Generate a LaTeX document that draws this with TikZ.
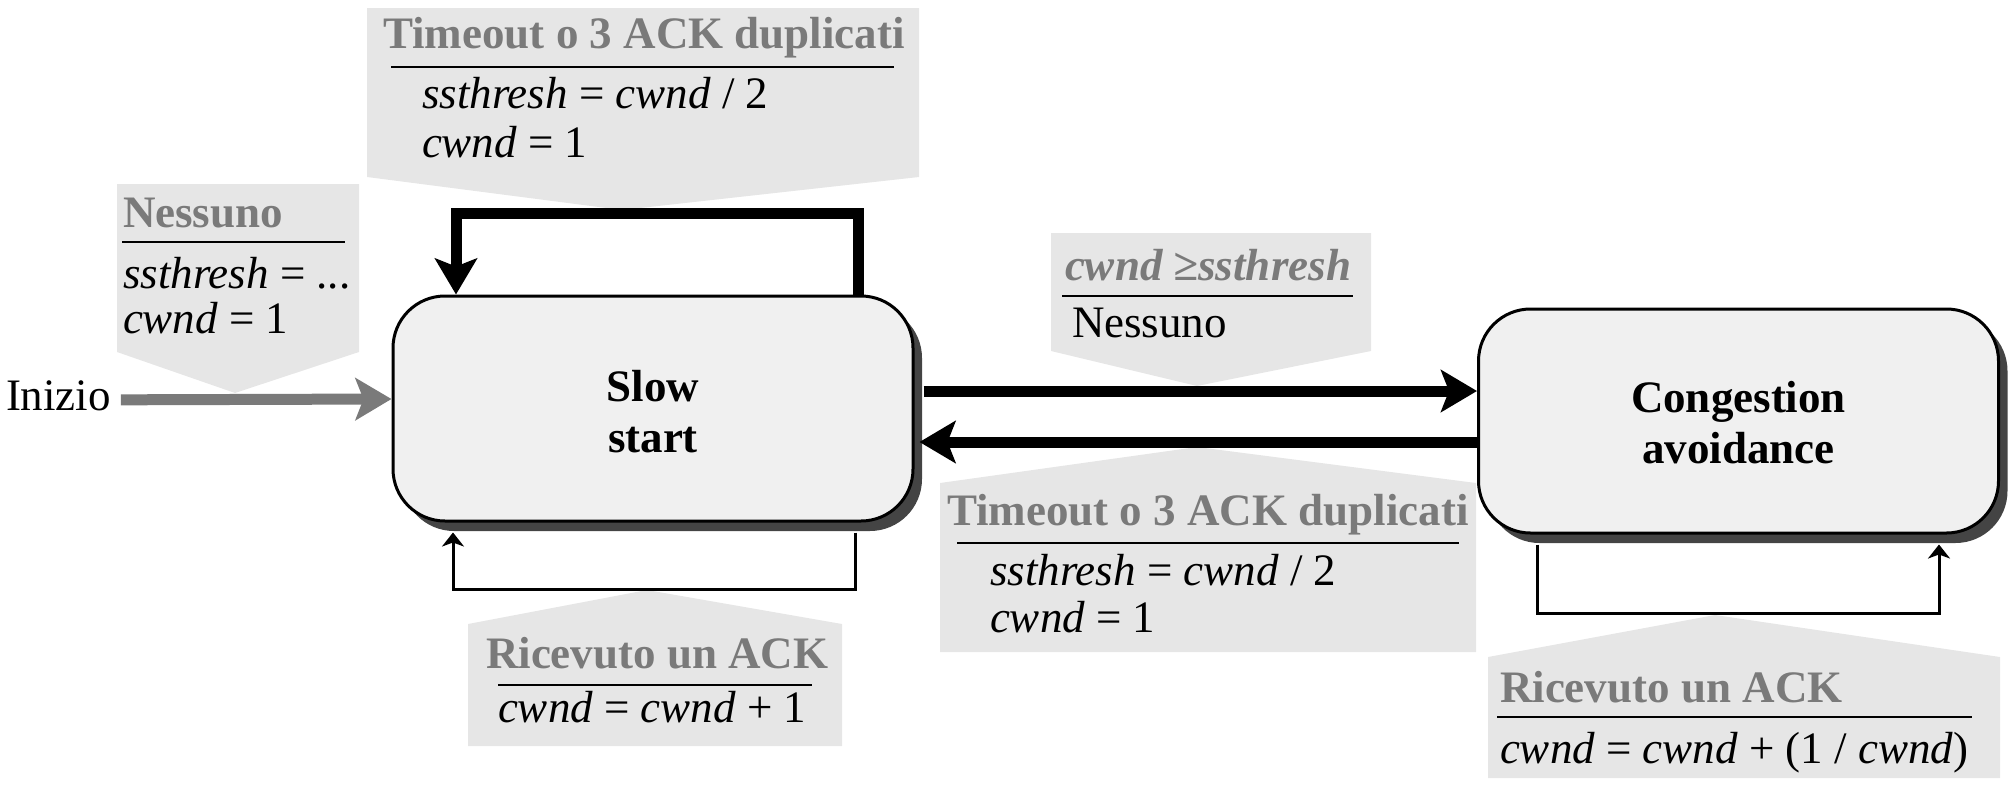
\documentclass[tikz,border=0pt]{standalone}
\usepackage{fontspec}
\setmainfont{Liberation Serif}
\usetikzlibrary{arrows.meta,calc,shadows}
\definecolor{calloutgray}{HTML}{E6E6E6}
\definecolor{boxgray}{HTML}{F0F0F0}
\definecolor{shadowgray}{HTML}{444444}
\definecolor{labelgray}{HTML}{7A7A7A}
\begin{document}
\begin{tikzpicture}[x=0.5pt,y=-0.5pt,
  txt/.style={inner sep=0pt,outer sep=0pt,anchor=base west,font=\fontsize{22.5}{25.5}\selectfont},
  head/.style={txt,font=\fontsize{22.5}{25.5}\selectfont\bfseries,text=labelgray},
  callout/.style={fill=calloutgray},
  rulel/.style={line width=1.2pt},
  statebox/.style={draw,line width=1.5pt,fill=boxgray,rounded corners=26pt,
    minimum width=260pt,minimum height=112.5pt,align=center,inner sep=0pt,
    font=\fontsize{22.5}{25.5}\selectfont\bfseries,
    drop shadow={shadow xshift=4.5pt,shadow yshift=-5pt,fill=shadowgray,opacity=1}},
  thickarrow/.style={line width=5.5pt,-{Stealth[length=18pt,width=21pt,inset=4pt]}},
  grayarrow/.style={thickarrow,draw=labelgray},
  thinarrow/.style={line width=1.5pt,-{Stealth[length=7pt,width=11pt,inset=2pt]}}
]
\useasboundingbox (0,0) rectangle (2014,788);

% callout backgrounds
\fill[callout] (367,8) -- (919,8) -- (919,177) -- (622,210) -- (367,177) -- cycle;
\fill[callout] (117,184) -- (359,184) -- (359,352) -- (235,393) -- (117,352) -- cycle;
\fill[callout] (1051,233) -- (1371,233) -- (1371,351) -- (1197,386) -- (1051,351) -- cycle;
\fill[callout] (940,483) -- (1197,447) -- (1476,483) -- (1476,652) -- (940,652) -- cycle;
\fill[callout] (468,624) -- (647,590) -- (842,624) -- (842,746) -- (468,746) -- cycle;
\fill[callout] (1488,657) -- (1715,615) -- (2000,657) -- (2000,778) -- (1488,778) -- cycle;

% states
\node[statebox] (ss) at (653,408.5) {\rule{0pt}{19pt}Slow\\start};
\node[statebox,minimum height=112pt] (ca) at (1738.5,421) {\rule{0pt}{17.5pt}Congestion\\avoidance};

% start
\node[txt] (inizio) at (6,410) {Inizio};
\draw[grayarrow] ([xshift=5pt,yshift=-2.25pt]inizio.east) -- ([yshift=4.75pt]ss.west);

% self loop slow start (timeout)
\draw[thickarrow,line join=miter] ($(ss.north)+(205,0)$) -- ++(0,-81) -| ($(ss.north)+(-197,0)$);
% self loop slow start (ack)
\draw[thinarrow,line join=miter] ($(ss.south)+(202,10)$) -- ++(0,57) -| ($(ss.south)+(-200,10)$);
% self loop congestion avoidance (ack)
\draw[thinarrow,line join=miter] ($(ca.south)+(-201.5,10)$) -- ++(0,69) -| ($(ca.south)+(200.5,10)$);

% transitions
\draw[thickarrow] ($(ss.east)+(9,-17.5)$) coordinate (r1) -- (r1 -| ca.west);
\draw[thickarrow] ($(ca.west)+(0,21)$) coordinate (l1) -- ($(l1 -| ss.east)+(5,0)$);

% texts: top callout
\node[head,anchor=base] (t1h) at (644,48) {Timeout o 3 ACK duplicati};
\draw[rulel] (391,67) -- (894,67);
\node[txt] (t1a) at (422,108) {\textit{ssthresh} = \textit{cwnd} / 2};
\node[txt] (t1b) at (422,157) {\textit{cwnd} = 1};

% Nessuno callout
\node[head] (n1h) at (123,227) {Nessuno};
\draw[rulel] (122,242) -- (345,242);
\node[txt] (n1a) at (123,288) {\textit{ssthresh} = ...};
\node[txt] (n1b) at (123,333) {\textit{cwnd} = 1};

% cwnd >= ssthresh callout
\node[head,font=\fontsize{22.5}{25.5}\selectfont\bfseries\itshape] (c1h) at (1065,280) {cwnd ≥ssthresh};
\draw[rulel] (1062,296) -- (1353,296);
\node[txt] (c1a) at (1072,337) {Nessuno};

% middle timeout callout
\node[head] (t2h) at (947,525) {Timeout o 3 ACK duplicati};
\draw[rulel] (957,543) -- (1459,543);
\node[txt] (t2a) at (990,585) {\textit{ssthresh} = \textit{cwnd} / 2};
\node[txt] (t2b) at (990,632) {\textit{cwnd} = 1};

% slow start ack callout
\node[head] (a1h) at (486,668) {Ricevuto un ACK};
\draw[rulel] (498,685) -- (812,685);
\node[txt] (a1a) at (498,722) {\textit{cwnd} = \textit{cwnd} + 1};

% congestion avoidance ack callout
\node[head] (a2h) at (1500,702) {Ricevuto un ACK};
\draw[rulel] (1497,717) -- (1972,717);
\node[txt] (a2a) at (1500,763) {\textit{cwnd} = \textit{cwnd} + (1 / \textit{cwnd})};
\end{tikzpicture}
\end{document}
